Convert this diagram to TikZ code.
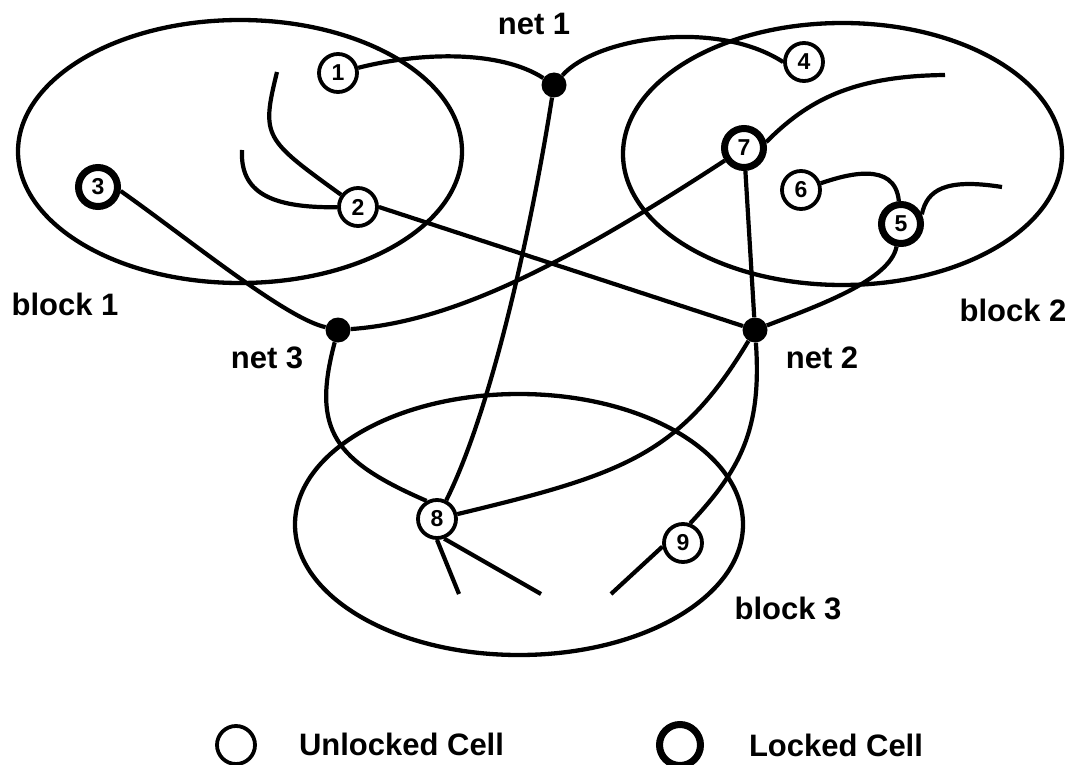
\documentclass[tikz,border=0pt]{standalone}
\usepackage{fontspec}
\newfontfamily\labelfont{Liberation Sans}
\begin{document}
\begin{tikzpicture}[x=1pt,y=-1pt,
  block/.style={draw, line width=4.3pt},
  wire/.style={draw, line width=4.2pt},
  cell/.style={circle, draw, fill=white, line width=3.8pt, minimum size=38pt, inner sep=0pt,
               font={\labelfont\bfseries\fontsize{23}{23}\selectfont}},
  locked/.style={cell, line width=7pt, minimum size=39pt},
  netdot/.style={circle, fill, minimum size=25pt, inner sep=0pt},
  lbl/.style={anchor=base, inner sep=0pt, font={\labelfont\bfseries\fontsize{31}{31}\selectfont}}]
\useasboundingbox (0,0) rectangle (1069,765);

% partition blocks
\draw[block] (240,151.5) ellipse [x radius=222, y radius=131.5];
\draw[block] (842.5,154) ellipse [x radius=219.5, y radius=131];
\draw[block] (519,524.5) ellipse [x radius=224, y radius=130.5];

% cells
\node[cell]   (c1) at (338,73)  {1};
\node[cell]   (c2) at (358,207) {2};
\node[locked] (c3) at (98,187)  {3};
\node[cell]   (c4) at (804,62)  {4};
\node[locked] (c5) at (901,224) {5};
\node[cell]   (c6) at (801,190) {6};
\node[locked] (c7) at (744,148) {7};
\node[cell]   (c8) at (437,519) {8};
\node[cell]   (c9) at (683,543) {9};

% net junctions
\node[netdot] (n1) at (554,85)  {};
\node[netdot] (n2) at (755,330) {};
\node[netdot] (n3) at (338,330) {};

% free wire ends
\coordinate (e2a) at (242,150);
\coordinate (e2b) at (277,72);
\coordinate (e7)  at (945,75);
\coordinate (e5)  at (1002,187);
\coordinate (e8a) at (459,594);
\coordinate (e8b) at (541,594);
\coordinate (e9)  at (611,594);

% net 1
\draw[wire] (c1) .. controls (420,52) and (500,50) .. (n1);
\draw[wire] (n1) .. controls (595,38) and (715,18) .. (c4.west);
\draw[wire] (n1) .. controls (534,212) and (495,402) .. (c8);

% net 2
\draw[wire] (c2.east) -- (n2);
\draw[wire] (c7) -- (n2);
\draw[wire] (n2) .. controls (820,305) and (890,280) .. (c5);
\draw[wire] (n2) .. controls (680,455) and (624,474) .. (c8);
\draw[wire] (n2) .. controls (762,430) and (740,470) .. (c9.70);

% net 3
\draw[wire] (c3.-10) .. controls (190,240) and (285,318) .. (n3);
\draw[wire] (n3) .. controls (450,322) and (560,268) .. (c7);
\draw[wire] (n3) .. controls (311,431) and (335,461) .. (c8.120);

% wires running on to other nets
\draw[wire] (c2) .. controls (270,208) and (240,192) .. (e2a);
\draw[wire] (c2) .. controls (264,139) and (261,137) .. (e2b);
\draw[wire] (c7.15) .. controls (808,100) and (853,76) .. (e7);
\draw[wire] (c6) .. controls (845,175) and (895,160) .. (c5);
\draw[wire] (c5.25) .. controls (927,190) and (945,178) .. (e5);
\draw[wire] (c8.south) -- (e8a);
\draw[wire] (c8.-70) -- (e8b);
\draw[wire] (c9.190) -- (e9);

% labels
\node[lbl] (tnet1)   at (534,35)  {net 1};
\node[lbl] (tnet2)   at (822,368) {net 2};
\node[lbl] (tnet3)   at (267,368) {net 3};
\node[lbl] (tblock1) at (65,315)  {block 1};
\node[lbl] (tblock2) at (1013,321) {block 2};
\node[lbl] (tblock3) at (788,619) {block 3};

% legend
\node[cell, minimum size=38pt]   (keyu) at (236,745) {};
\node[locked, minimum size=41pt] (keyl) at (680,745) {};
\node[lbl] (tkeyu) at (401.5,755) {Unlocked Cell};
\node[lbl] (tkeyl) at (836,756)   {Locked Cell};
\end{tikzpicture}
\end{document}
